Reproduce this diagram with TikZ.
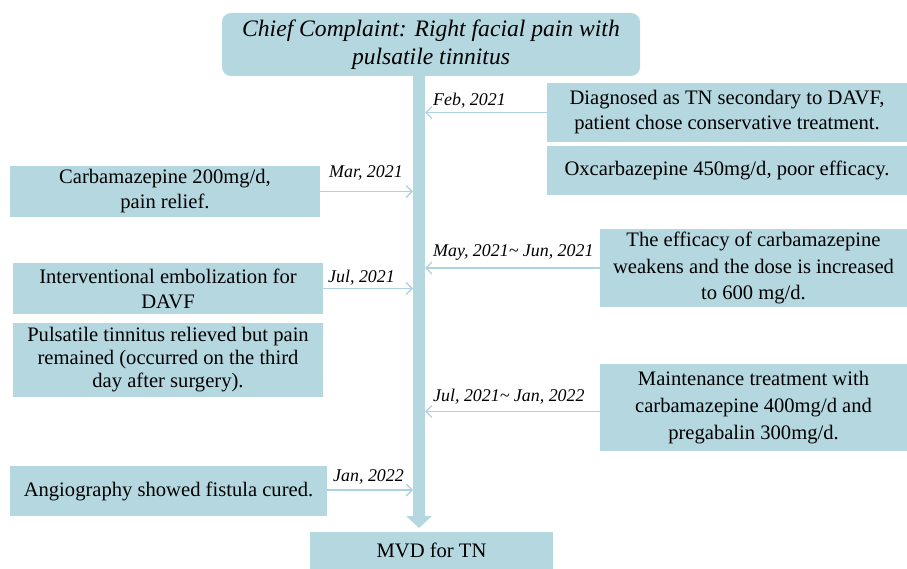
\documentclass[tikz,border=0pt]{standalone}
\usepackage{fontspec}
\setmainfont{Liberation Serif}
\usetikzlibrary{arrows.meta}
\definecolor{boxblue}{RGB}{180,215,224}
\definecolor{lineblue}{RGB}{172,211,223}
\begin{document}
\begin{tikzpicture}[x=1pt,y=-1pt,
  box/.style={fill=boxblue, draw=none, inner sep=0pt, align=center,
              font=\fontsize{20.6}{25}\selectfont},
  conn/.style={draw=lineblue, line width=1.3pt,
               -{Straight Barb[length=6pt,width=12pt,line width=1.3pt]}},
  datelbl/.style={inner sep=0pt, anchor=west, font=\fontsize{17.9}{20}\selectfont\itshape},
  spine/.style={draw=boxblue, line width=12pt, -{Triangle[length=12pt,width=25pt]}},
]
\useasboundingbox (0,0) rectangle (907,569);

% boxes
\node[box, minimum width=418pt, minimum height=63pt, rounded corners=9pt,
      font=\fontsize{23.6}{28}\selectfont\itshape] (top) at (431,44.5)
  {Chief Complaint: Right facial pain with\\pulsatile tinnitus};
\node[box, minimum width=360pt, minimum height=59pt] (diag) at (727,112.5)
  {Diagnosed as TN secondary to DAVF,\\patient chose conservative treatment.};
\node[box, minimum width=360pt, minimum height=49pt] (oxc) at (727,170.5)
  {Oxcarbazepine 450mg/d, poor efficacy.};
\node[box, minimum width=310pt, minimum height=51pt] (carb) at (165,191.5)
  {Carbamazepine 200mg/d,\\pain relief.};
\node[box, minimum width=310pt, minimum height=51pt] (interv) at (168,288.5)
  {Interventional embolization for\\DAVF};
\node[box, minimum width=310pt, minimum height=74pt,
      font=\fontsize{20.6}{23}\selectfont] (puls) at (168,360)
  {Pulsatile tinnitus relieved but pain\\remained (occurred on the third\\day after surgery).};
\node[box, minimum width=307pt, minimum height=78pt,
      font=\fontsize{20.6}{26.5}\selectfont] (eff) at (753.5,268)
  {The efficacy of carbamazepine\\weakens and the dose is increased\\to 600 mg/d.};
\node[box, minimum width=307pt, minimum height=87pt,
      font=\fontsize{20.6}{27}\selectfont] (maint) at (753.5,407.5)
  {Maintenance treatment with\\carbamazepine 400mg/d and\\pregabalin 300mg/d.};
\node[box, minimum width=317pt, minimum height=50pt] (angio) at (168.5,491)
  {Angiography showed fistula cured.};
\node[box, minimum width=243pt, minimum height=37pt] (mvd) at (431.5,550.5)
  {MVD for TN};

% central time line
\coordinate (bx) at (419,0);
\coordinate (sR) at (425,0);
\coordinate (sL) at (413,0);
\coordinate (bend) at (419,528);
\draw[spine] (top.south -| bx) -- (bend);

% connectors
\coordinate (mA) at ([yshift=-4pt]maint.west);
\coordinate (aA) at ([yshift=1pt]angio.east);
\draw[conn] (diag.west) -- (diag.west -| sR);
\draw[conn] (carb.east) -- (carb.east -| sL);
\draw[conn] (eff.west) -- (eff.west -| sR);
\draw[conn] (interv.east) -- (interv.east -| sL);
\draw[conn] (mA) -- (mA -| sR);
\draw[conn] (aA) -- (aA -| sL);

% date labels
\node[datelbl] (lfeb) at (433,101) {Feb, 2021};
\node[datelbl] (lmar) at (329,173) {Mar, 2021};
\node[datelbl] (lmay) at (433,252) {May, 2021\textasciitilde{} Jun, 2021};
\node[datelbl] (ljul) at (328,278) {Jul, 2021};
\node[datelbl] (ljj) at (433,397) {Jul, 2021\textasciitilde{} Jan, 2022};
\node[datelbl] (ljan) at (333,477) {Jan, 2022};
\end{tikzpicture}
\end{document}
